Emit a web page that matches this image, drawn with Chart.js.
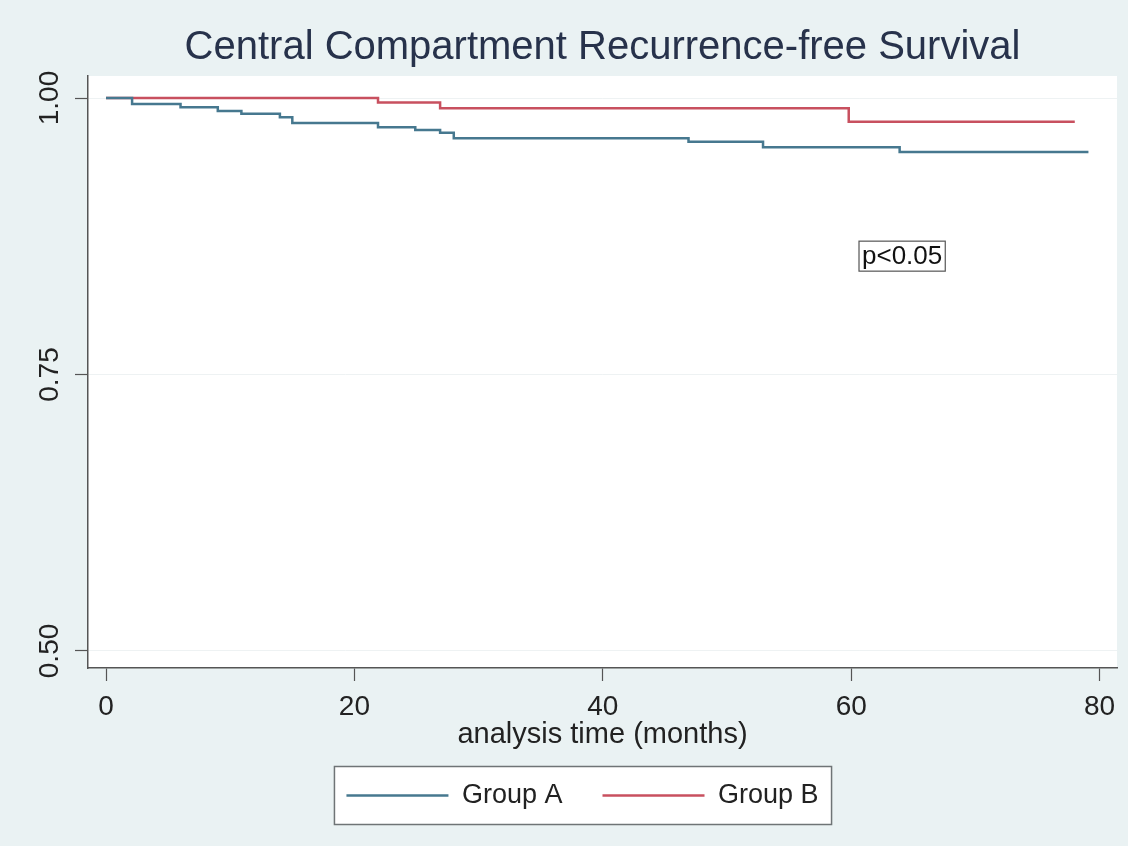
<!DOCTYPE html>
<html><head><meta charset="utf-8">
<script src="https://cdn.jsdelivr.net/npm/chart.js@4"></script>
<style>html,body{margin:0;padding:0;background:#eaf2f3}</style>
</head><body>
<canvas id="c" width="1128" height="846"></canvas>
<script>
// ---- data ----
const titleText = 'Central Compartment Recurrence-free Survival';
const xTitleText = 'analysis time (months)';
const seriesNames = ['Group A', 'Group B'];
const groupATimes = [0, 2.1, 6.0, 9.0, 10.9, 14.0, 15.0, 21.9, 24.9, 26.9, 28.0, 46.9, 52.9, 63.9, 79.1];
const groupASurv  = [1.000, 0.9946, 0.9916, 0.9882, 0.9858, 0.9825, 0.9774, 0.9735, 0.9711, 0.9686, 0.9635, 0.9605, 0.9554, 0.9512, 0.9512];
const groupBTimes = [0, 21.9, 26.9, 59.8, 78.0];
const groupBSurv  = [1.000, 0.9960, 0.9907, 0.9786, 0.9786];
const xTickValues = [0, 20, 40, 60, 80];
const yTickValues = [0.50, 0.75, 1.00];
const pValueText = 'p<0.05';
const pValuePos = [64.1, 0.857];

const FONT = '"Liberation Sans", Arial, sans-serif';
const colA = '#46788f';
const colB = '#c8505f';
const LEGEND_LEFT = 48;

function toPoints(ts, vs) { return ts.map((t, i) => ({x: t, y: vs[i]})); }

const decor = {
  id: 'decor',
  beforeDraw(chart) {
    const {ctx, chartArea: a} = chart;
    ctx.save();
    ctx.fillStyle = '#eaf2f3';
    ctx.fillRect(0, 0, chart.width, chart.height);
    ctx.fillStyle = '#ffffff';
    ctx.fillRect(a.left, a.top, a.right - a.left, a.bottom - a.top);
    const lg = chart.legend;
    if (lg && lg.lineWidths && lg.lineWidths.length) {
      lg.left = LEGEND_LEFT;
      const pad = lg.options.labels.padding;
      const lw = lg.lineWidths[0];
      const start = (lg.left + pad + lg.right - lw) / 2;
      const end = start + lw - pad;
      const ih = lg.legendHitBoxes && lg.legendHitBoxes.length ? lg.legendHitBoxes[0].height : 27;
      const cy = lg.top + pad + ih / 2;
      const l = start - 12, r = end + 13;
      const t = cy - 29, b = cy + 29;
      ctx.fillStyle = '#ffffff';
      ctx.fillRect(l, t, r - l, b - t);
      ctx.strokeStyle = '#6f7476';
      ctx.lineWidth = 1.5;
      ctx.strokeRect(l, t, r - l, b - t);
    }
    ctx.restore();
  },
  afterDatasetsDraw(chart) {
    const {ctx, scales: {x, y}} = chart;
    const cx = x.getPixelForValue(pValuePos[0]);
    const cy = y.getPixelForValue(pValuePos[1]);
    ctx.save();
    ctx.font = '26px ' + FONT;
    const w = ctx.measureText(pValueText).width;
    const bw = w + 6, bh = 30;
    ctx.fillStyle = '#ffffff';
    ctx.fillRect(cx - bw / 2, cy - bh / 2, bw, bh);
    ctx.strokeStyle = '#555';
    ctx.lineWidth = 1.2;
    ctx.strokeRect(cx - bw / 2, cy - bh / 2, bw, bh);
    ctx.fillStyle = '#111';
    ctx.textAlign = 'center';
    ctx.textBaseline = 'middle';
    ctx.fillText(pValueText, cx, cy + 1);
    ctx.restore();
  }
};

new Chart(document.getElementById('c'), {
  type: 'line',
  data: {
    datasets: [
      {label: seriesNames[0], data: toPoints(groupATimes, groupASurv), borderColor: colA, backgroundColor: colA,
       borderWidth: 2.5, pointRadius: 0, stepped: true, fill: false},
      {label: seriesNames[1], data: toPoints(groupBTimes, groupBSurv), borderColor: colB, backgroundColor: colB,
       borderWidth: 2.5, pointRadius: 0, stepped: true, fill: false}
    ]
  },
  options: {
    responsive: false,
    animation: false,
    devicePixelRatio: 1,
    events: [],
    layout: {padding: {left: 0, right: 11, top: 0, bottom: 27}},
    plugins: {
      title: {display: true, text: titleText, fullSize: false, color: '#27324b',
              font: {family: FONT, size: 40, weight: 'normal', lineHeight: 1.2},
              padding: {top: 23.5, bottom: 4.5}},
      legend: {position: 'bottom', align: 'center',
               labels: {usePointStyle: true, pointStyle: 'line', pointStyleWidth: 102,
                        padding: 40, color: '#222', font: {family: FONT, size: 27}}},
      tooltip: {enabled: false}
    },
    scales: {
      x: {
        type: 'linear', min: -1.45, max: 81.4,
        afterBuildTicks(s) { s.ticks = xTickValues.map(v => ({value: v})); },
        afterFit(s) { s.height = 74; },
        grid: {drawOnChartArea: false, tickLength: 13, tickColor: '#555', tickWidth: 1.2},
        border: {color: '#555', width: 1.5},
        ticks: {color: '#222', font: {family: FONT, size: 28}, padding: 9.5, maxRotation: 0, callback: v => String(v)},
        title: {display: true, text: xTitleText, color: '#222', font: {family: FONT, size: 29, lineHeight: 1.2},
                padding: {top: 0, bottom: -10.4}}
      },
      y: {
        type: 'linear', min: 0.4846, max: 1.0199,
        afterBuildTicks(s) { s.ticks = yTickValues.map(v => ({value: v})); },
        afterFit(s) { s.width = 88; },
        grid: {color: '#eef2f3', lineWidth: 1, tickLength: 13, tickColor: '#555', tickWidth: 1.2},
        border: {color: '#555', width: 1.5},
        ticks: {color: '#222', font: {family: FONT, size: 28}, padding: -3, minRotation: 90, maxRotation: 90,
                crossAlign: 'center', callback: v => Number(v).toFixed(2)}
      }
    }
  },
  plugins: [decor]
});
</script>
</body></html>
